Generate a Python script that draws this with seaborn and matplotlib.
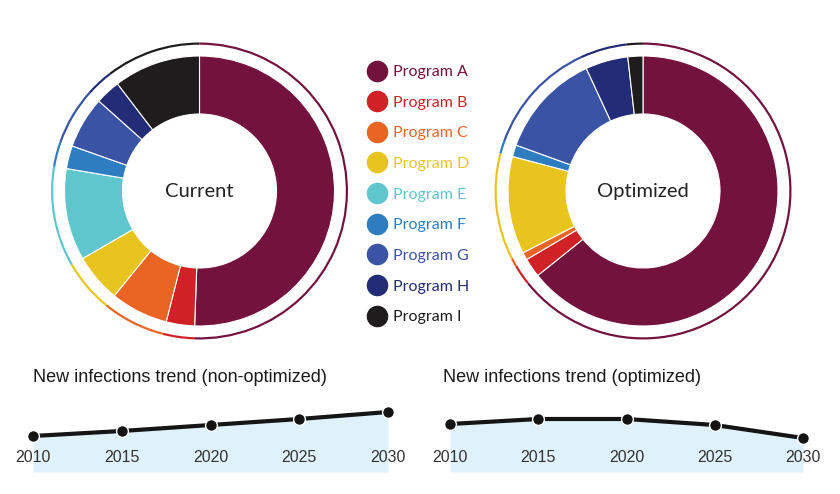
import matplotlib
matplotlib.use("Agg")
import matplotlib.pyplot as plt
from matplotlib.lines import Line2D
import seaborn as sns

# Program shares (% of budget), read from the donuts
programs = ["Program A", "Program B", "Program C", "Program D", "Program E",
            "Program F", "Program G", "Program H", "Program I"]
colors = ["#74123e", "#cf2126", "#ea6424", "#e8c51e", "#5ec6cc",
          "#2e7dc0", "#3a53a4", "#232c76", "#1e1c1d"]
current_share = [50.6, 3.4, 6.9, 5.8, 11.0, 2.75, 6.2, 3.0, 10.4]
optimized_share = [64.3, 2.3, 0.9, 11.7, 0.0, 1.4, 12.6, 5.1, 1.8]

# New infections trend (relative units)
years = [2010, 2015, 2020, 2025, 2030]
trend_nonopt = [3.6, 4.1, 4.7, 5.3, 6.0]
trend_opt = [4.8, 5.3, 5.3, 4.7, 3.4]

sns.set_theme(style="white")
plt.rcParams['font.family'] = ['Lato', 'DejaVu Sans']

W, H = 840, 494
fig = plt.figure(figsize=(W / 100, H / 100), dpi=100)
fig.patch.set_facecolor("white")


def px_axes(x0, y_top, w, h):
    # axes from pixel box (top-left origin)
    return fig.add_axes([x0 / W, 1 - (y_top + h) / H, w / W, h / H])


def donut(cx, cy, shares, label):
    ax = px_axes(cx - 150, cy - 150, 300, 300)
    vals = [v for v in shares if v > 0]
    cols = [c for v, c in zip(shares, colors) if v > 0]
    ax.pie(vals, colors=cols, startangle=90, counterclock=False, radius=1.35,
           wedgeprops=dict(width=0.58, edgecolor="white", linewidth=0.8))
    ax.pie(vals, colors=cols, startangle=90, counterclock=False, radius=1.485,
           wedgeprops=dict(width=0.022, edgecolor="none"))
    ax.set_xlim(-1.5, 1.5)
    ax.set_ylim(-1.5, 1.5)
    ax.set_aspect("equal")
    ax.axis("off")
    ax.text(0, 0, label, ha="center", va="center", fontsize=14.5, color="#222222")


donut(199.5, 191, current_share, "Current")
donut(643, 191, optimized_share, "Optimized")

# legend in the middle
handles = [Line2D([0], [0], marker="o", linestyle="none", markersize=14.5,
                  markerfacecolor=c, markeredgecolor=c) for c in colors]
fig.legend(handles, programs, loc="upper left",
           bbox_to_anchor=(367 / W, 1 - 65 / H), frameon=False,
           fontsize=11.5, labelcolor=colors, handletextpad=0.45,
           labelspacing=1.03, handlelength=1.2, borderpad=0, borderaxespad=0)


def trend(x0, x1, vals, title, tx):
    ax = px_axes(x0, 402, x1 - x0, 70)
    ax.fill_between(years, vals, 0, color="#dff1fb", lw=0, zorder=0)
    sns.lineplot(x=years, y=vals, ax=ax, color="#151515", lw=3.0,
                 marker="o", markersize=8.5, markeredgecolor="white",
                 markeredgewidth=1.0, clip_on=False, zorder=3)
    ax.set_axisbelow(False)
    ax.set_xlim(2010, 2030)
    ax.set_ylim(0, 7)
    ax.set_xticks(years)
    ax.set_xticklabels([str(y) for y in years], family="Liberation Sans",
                       fontsize=11.5, color="#333333")
    ax.tick_params(axis="x", length=0, pad=-15.5)
    ax.set_yticks([])
    ax.set_xlabel("")
    ax.set_ylabel("")
    for s in ax.spines.values():
        s.set_visible(False)
    ax.patch.set_alpha(0)
    fig.text(tx / W, 1 - 377 / H, title, ha="left", va="center",
             fontsize=13, family="Liberation Sans", color="#1a1a1a")


trend(33, 388, trend_nonopt, "New infections trend (non-optimized)", 33)
trend(450, 803, trend_opt, "New infections trend (optimized)", 443)

fig.savefig("out.png", dpi=100, facecolor="white")
